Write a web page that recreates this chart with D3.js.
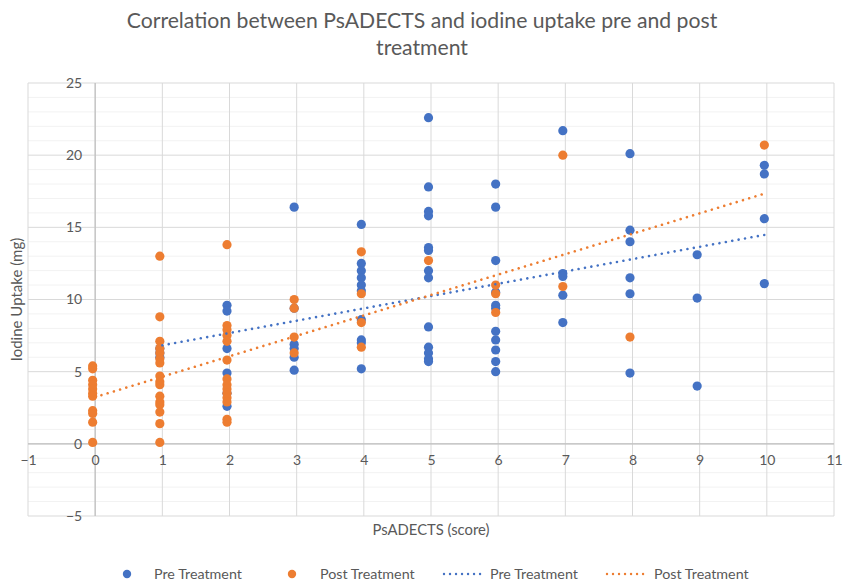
<!DOCTYPE html>
<html><head><meta charset="utf-8">
<script src="https://cdn.jsdelivr.net/npm/d3@7"></script>
<style>
html,body{margin:0;padding:0;background:#fff;}
svg text{font-family:Lato,"Open Sans",sans-serif;fill:#595959;}
</style></head>
<body><svg id="c" width="845" height="581"></svg>
<script>
// ---- data ----
const titleLines = ["Correlation between PsADECTS and iodine uptake pre and post", "treatment"];
const xTicks = [-1,0,1,2,3,4,5,6,7,8,9,10,11];
const yTicks = [-5,0,5,10,15,20,25];
const preX = [1,1,1, 2,2,2,2,2,2, 3,3,3,3,3,3, 4,4,4,4,4,4,4,4,4,4,
  5,5,5,5,5,5,5,5,5,5,5,5,5, 6,6,6,6,6,6,6,6,6,6,6, 7,7,7,7,7, 8,8,8,8,8,8, 9,9,9, 10,10,10,10];
const preY = [6.6,6.3,6.0, 9.6,9.2,6.6,4.9,3.5,2.6, 16.4,9.4,6.9,6.6,6.0,5.1,
  15.2,12.5,12.0,11.5,11.0,10.6,8.6,7.2,7.0,5.2,
  22.6,17.8,16.1,15.8,13.6,13.4,12.0,11.5,8.1,6.7,6.3,5.9,5.7,
  18.0,16.4,12.7,10.5,9.6,9.4,7.8,7.2,6.5,5.7,5.0,
  21.7,11.8,11.6,10.3,8.4, 20.1,14.8,14.0,11.5,10.4,4.9, 13.1,10.1,4.0, 19.3,18.7,15.6,11.1];
const postX = [0,0,0,0,0,0,0,0,0,0,0, 1,1,1,1,1,1,1,1,1,1,1,1,1,1,1,1,
  2,2,2,2,2,2,2,2,2,2,2,2,2,2, 3,3,3,3, 4,4,4,4, 5, 6,6,6, 7,7, 8, 10];
const postY = [5.4,5.2,4.4,4.1,3.8,3.5,3.3,2.3,2.1,1.5,0.1,
  13.0,8.8,7.1,6.6,6.3,5.9,5.6,4.7,4.3,4.1,3.3,2.9,2.7,2.2,1.4,0.1,
  13.8,8.2,7.9,7.5,7.1,5.8,4.5,4.1,3.8,3.5,3.2,2.9,1.7,1.5,
  10.0,9.4,7.4,6.3, 13.3,10.4,8.4,6.7, 12.7, 11.0,10.4,9.1, 20.0,10.9, 7.4, 20.7];
const seriesNames = ["Pre Treatment","Post Treatment"];
const xTitle = "PsADECTS (score)";
const yTitle = "Iodine Uptake (mg)";

// ---- drawing ----
const colors = ["#4472C4","#ED7D31"];
const svg = d3.select("#c");
const L=28, R=834, T=83, B=516;
const x = d3.scaleLinear().domain([-1,11]).range([L,R]);
const y = d3.scaleLinear().domain([-5,25]).range([B,T]);

// minor horizontal grid
svg.append("g").selectAll("line").data(d3.range(-5,26,1).filter(v=>v%5!==0)).join("line")
  .attr("x1",L).attr("x2",R).attr("y1",d=>y(d)).attr("y2",d=>y(d))
  .attr("stroke","#f2f2f2").attr("stroke-width",1);
// major horizontal grid
svg.append("g").selectAll("line").data(yTicks).join("line")
  .attr("x1",L).attr("x2",R).attr("y1",d=>y(d)).attr("y2",d=>y(d))
  .attr("stroke","#d9d9d9").attr("stroke-width",1);
// vertical grid
svg.append("g").selectAll("line").data(xTicks).join("line")
  .attr("x1",d=>x(d)).attr("x2",d=>x(d)).attr("y1",T).attr("y2",B)
  .attr("stroke","#d9d9d9").attr("stroke-width",1);
// axis lines
svg.append("line").attr("x1",L).attr("x2",R).attr("y1",y(0)).attr("y2",y(0)).attr("stroke","#bfbfbf").attr("stroke-width",1.2);
svg.append("line").attr("x1",x(0)).attr("x2",x(0)).attr("y1",T).attr("y2",B).attr("stroke","#bfbfbf").attr("stroke-width",1.2);

// tick labels via axes
const ya = svg.append("g").attr("transform",`translate(${x(0)-6},0)`)
  .call(d3.axisLeft(y).tickValues(yTicks).tickSize(0).tickPadding(7));
ya.select(".domain").remove();
ya.selectAll("text").attr("font-size",14).style("font-family","Lato").attr("fill","#595959");
const xa = svg.append("g").attr("transform",`translate(0,${y(0)+8})`)
  .call(d3.axisBottom(x).tickValues(xTicks).tickSize(0).tickPadding(3));
xa.select(".domain").remove();
xa.selectAll("text").attr("font-size",14).style("font-family","Lato").attr("fill","#595959");

// points
const pre = preX.map((d,i)=>({x:d,y:preY[i]}));
const post = postX.map((d,i)=>({x:d,y:postY[i]}));
const off = -2.5;
[pre,post].forEach((s,k)=>{
  svg.append("g").selectAll("circle").data(s).join("circle")
    .attr("cx",d=>x(d.x)+off).attr("cy",d=>y(d.y)).attr("r",4.6)
    .attr("fill",colors[k]);
});

// linear trendlines (least squares)
function fit(s){
  const mx=d3.mean(s,d=>d.x), my=d3.mean(s,d=>d.y);
  const sxy=d3.sum(s,d=>(d.x-mx)*(d.y-my)), sxx=d3.sum(s,d=>(d.x-mx)**2);
  const b=sxy/sxx, a=my-b*mx; const [x0,x1]=d3.extent(s,d=>d.x);
  return [{x:x0,y:a+b*x0},{x:x1,y:a+b*x1}];
}
[pre,post].forEach((s,k)=>{
  const p=fit(s);
  svg.append("line").attr("x1",x(p[0].x)).attr("y1",y(p[0].y)).attr("x2",x(p[1].x)).attr("y2",y(p[1].y))
    .attr("stroke",colors[k]).attr("stroke-width",2.6).attr("stroke-linecap","round")
    .attr("stroke-dasharray","0.01 6.5");
});

// titles
svg.append("g").selectAll("text").data(titleLines).join("text")
  .attr("x",422).attr("y",(d,i)=>28+i*27).attr("text-anchor","middle")
  .attr("font-size",21.2).text(d=>d);
svg.append("text").attr("x",431).attr("y",535).attr("text-anchor","middle").attr("font-size",14.8).text(xTitle);
svg.append("text").attr("transform",`translate(22,${(T+B)/2}) rotate(-90)`).attr("text-anchor","middle").attr("font-size",15).text(yTitle);

// legend
const lg = svg.append("g");
const legItems = [
  {t:"marker",k:0,x:127,tx:154},
  {t:"marker",k:1,x:292,tx:320},
  {t:"line",k:0,x:443,tx:490},
  {t:"line",k:1,x:606,tx:654}
];
const ly=574;
legItems.forEach(it=>{
  if(it.t==="marker") lg.append("circle").attr("cx",it.x).attr("cy",ly).attr("r",4.2).attr("fill",colors[it.k]);
  else lg.append("line").attr("x1",it.x+1).attr("x2",it.x+42).attr("y1",ly).attr("y2",ly)
    .attr("stroke",colors[it.k]).attr("stroke-width",2.4).attr("stroke-linecap","round").attr("stroke-dasharray","0.01 6");
  lg.append("text").attr("x",it.tx).attr("y",ly+5).attr("font-size",14.3).text(seriesNames[it.k]);
});
</script></body></html>
